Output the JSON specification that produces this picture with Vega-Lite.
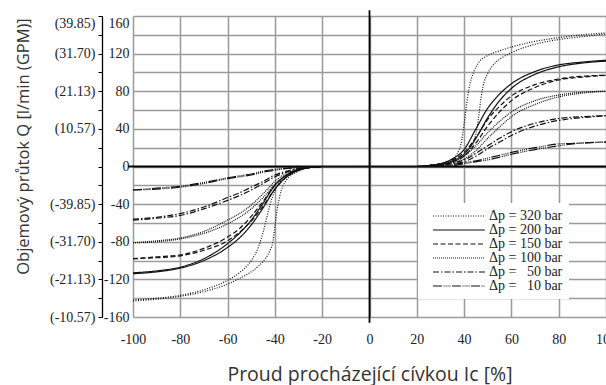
{
  "$schema": "https://vega.github.io/schema/vega-lite/v6.json",
  "width": 473,
  "height": 301,
  "autosize": {"type": "none"},
  "padding": {"left": 133, "top": 16, "right": 0, "bottom": 68},
  "background": "white",
  "config": {"view": {"stroke": null}, "font": "Liberation Sans Narrow"},
  "datasets": {
    "zero": [{"y": 0}],
    "curves": [
      {"p":320,"b":"a","x":-100,"y":-143},{"p":320,"b":"a","x":-90,"y":-141},{"p":320,"b":"a","x":-80,"y":-138},{"p":320,"b":"a","x":-70,"y":-133},{"p":320,"b":"a","x":-60,"y":-125},{"p":320,"b":"a","x":-55,"y":-119},{"p":320,"b":"a","x":-50,"y":-112},{"p":320,"b":"a","x":-47,"y":-106},{"p":320,"b":"a","x":-45,"y":-101},{"p":320,"b":"a","x":-43,"y":-94},{"p":320,"b":"a","x":-42,"y":-89},{"p":320,"b":"a","x":-41,"y":-82},{"p":320,"b":"a","x":-40,"y":-64},{"p":320,"b":"a","x":-39,"y":-45},{"p":320,"b":"a","x":-38,"y":-32},{"p":320,"b":"a","x":-35,"y":-14},{"p":320,"b":"a","x":-30,"y":-5},{"p":320,"b":"a","x":-25,"y":-1},{"p":320,"b":"a","x":-20,"y":0},
      {"p":320,"b":"a","x":20,"y":0},{"p":320,"b":"a","x":25,"y":1},{"p":320,"b":"a","x":30,"y":3},{"p":320,"b":"a","x":35,"y":8},{"p":320,"b":"a","x":37,"y":13},{"p":320,"b":"a","x":39,"y":28},{"p":320,"b":"a","x":40,"y":45},{"p":320,"b":"a","x":41,"y":65},{"p":320,"b":"a","x":42,"y":82},{"p":320,"b":"a","x":44,"y":100},{"p":320,"b":"a","x":46,"y":110},{"p":320,"b":"a","x":50,"y":118},{"p":320,"b":"a","x":55,"y":123},{"p":320,"b":"a","x":60,"y":127},{"p":320,"b":"a","x":70,"y":133},{"p":320,"b":"a","x":80,"y":137},{"p":320,"b":"a","x":90,"y":140},{"p":320,"b":"a","x":100,"y":142},
      {"p":320,"b":"b","x":-100,"y":-142},{"p":320,"b":"b","x":-90,"y":-140},{"p":320,"b":"b","x":-80,"y":-137},{"p":320,"b":"b","x":-70,"y":-131},{"p":320,"b":"b","x":-60,"y":-121},{"p":320,"b":"b","x":-55,"y":-113},{"p":320,"b":"b","x":-50,"y":-100},{"p":320,"b":"b","x":-47,"y":-86},{"p":320,"b":"b","x":-45,"y":-70},{"p":320,"b":"b","x":-43,"y":-50},{"p":320,"b":"b","x":-42,"y":-40},{"p":320,"b":"b","x":-40,"y":-26},{"p":320,"b":"b","x":-35,"y":-10},{"p":320,"b":"b","x":-30,"y":-4},{"p":320,"b":"b","x":-25,"y":-1},{"p":320,"b":"b","x":-20,"y":0},
      {"p":320,"b":"b","x":20,"y":0},{"p":320,"b":"b","x":25,"y":1},{"p":320,"b":"b","x":30,"y":2},{"p":320,"b":"b","x":35,"y":5},{"p":320,"b":"b","x":40,"y":11},{"p":320,"b":"b","x":43,"y":20},{"p":320,"b":"b","x":45,"y":35},{"p":320,"b":"b","x":46,"y":50},{"p":320,"b":"b","x":47,"y":70},{"p":320,"b":"b","x":48,"y":85},{"p":320,"b":"b","x":50,"y":99},{"p":320,"b":"b","x":52,"y":107},{"p":320,"b":"b","x":55,"y":114},{"p":320,"b":"b","x":60,"y":121},{"p":320,"b":"b","x":70,"y":130},{"p":320,"b":"b","x":80,"y":135},{"p":320,"b":"b","x":90,"y":138},{"p":320,"b":"b","x":100,"y":141},
      {"p":200,"b":"a","x":-100,"y":-114},{"p":200,"b":"a","x":-90,"y":-112},{"p":200,"b":"a","x":-80,"y":-108},{"p":200,"b":"a","x":-70,"y":-100},{"p":200,"b":"a","x":-60,"y":-86},{"p":200,"b":"a","x":-55,"y":-76},{"p":200,"b":"a","x":-50,"y":-62},{"p":200,"b":"a","x":-45,"y":-44},{"p":200,"b":"a","x":-40,"y":-24},{"p":200,"b":"a","x":-35,"y":-11},{"p":200,"b":"a","x":-30,"y":-4},{"p":200,"b":"a","x":-25,"y":-1},{"p":200,"b":"a","x":-20,"y":0},
      {"p":200,"b":"a","x":20,"y":0},{"p":200,"b":"a","x":25,"y":1},{"p":200,"b":"a","x":30,"y":3},{"p":200,"b":"a","x":35,"y":8},{"p":200,"b":"a","x":40,"y":18},{"p":200,"b":"a","x":45,"y":40},{"p":200,"b":"a","x":50,"y":62},{"p":200,"b":"a","x":55,"y":77},{"p":200,"b":"a","x":60,"y":88},{"p":200,"b":"a","x":70,"y":101},{"p":200,"b":"a","x":80,"y":108},{"p":200,"b":"a","x":90,"y":111},{"p":200,"b":"a","x":100,"y":113},
      {"p":200,"b":"b","x":-100,"y":-113},{"p":200,"b":"b","x":-90,"y":-111},{"p":200,"b":"b","x":-80,"y":-107},{"p":200,"b":"b","x":-70,"y":-98},{"p":200,"b":"b","x":-60,"y":-82},{"p":200,"b":"b","x":-55,"y":-71},{"p":200,"b":"b","x":-50,"y":-57},{"p":200,"b":"b","x":-45,"y":-39},{"p":200,"b":"b","x":-40,"y":-20},{"p":200,"b":"b","x":-35,"y":-9},{"p":200,"b":"b","x":-30,"y":-3},{"p":200,"b":"b","x":-25,"y":-1},{"p":200,"b":"b","x":-20,"y":0},
      {"p":200,"b":"b","x":20,"y":0},{"p":200,"b":"b","x":25,"y":1},{"p":200,"b":"b","x":30,"y":2},{"p":200,"b":"b","x":35,"y":6},{"p":200,"b":"b","x":40,"y":13},{"p":200,"b":"b","x":45,"y":30},{"p":200,"b":"b","x":50,"y":52},{"p":200,"b":"b","x":55,"y":70},{"p":200,"b":"b","x":60,"y":83},{"p":200,"b":"b","x":70,"y":98},{"p":200,"b":"b","x":80,"y":106},{"p":200,"b":"b","x":90,"y":110},{"p":200,"b":"b","x":100,"y":112},
      {"p":150,"b":"a","x":-100,"y":-98},{"p":150,"b":"a","x":-90,"y":-97},{"p":150,"b":"a","x":-80,"y":-95},{"p":150,"b":"a","x":-70,"y":-89},{"p":150,"b":"a","x":-60,"y":-79},{"p":150,"b":"a","x":-55,"y":-70},{"p":150,"b":"a","x":-50,"y":-58},{"p":150,"b":"a","x":-45,"y":-42},{"p":150,"b":"a","x":-40,"y":-24},{"p":150,"b":"a","x":-35,"y":-11},{"p":150,"b":"a","x":-30,"y":-4},{"p":150,"b":"a","x":-25,"y":-1},{"p":150,"b":"a","x":-20,"y":0},
      {"p":150,"b":"a","x":20,"y":0},{"p":150,"b":"a","x":25,"y":1},{"p":150,"b":"a","x":30,"y":3},{"p":150,"b":"a","x":35,"y":7},{"p":150,"b":"a","x":40,"y":15},{"p":150,"b":"a","x":45,"y":31},{"p":150,"b":"a","x":50,"y":50},{"p":150,"b":"a","x":55,"y":64},{"p":150,"b":"a","x":60,"y":75},{"p":150,"b":"a","x":70,"y":87},{"p":150,"b":"a","x":80,"y":93},{"p":150,"b":"a","x":90,"y":96},{"p":150,"b":"a","x":100,"y":97},
      {"p":150,"b":"b","x":-100,"y":-98},{"p":150,"b":"b","x":-90,"y":-96},{"p":150,"b":"b","x":-80,"y":-94},{"p":150,"b":"b","x":-70,"y":-87},{"p":150,"b":"b","x":-60,"y":-75},{"p":150,"b":"b","x":-55,"y":-66},{"p":150,"b":"b","x":-50,"y":-53},{"p":150,"b":"b","x":-45,"y":-37},{"p":150,"b":"b","x":-40,"y":-20},{"p":150,"b":"b","x":-35,"y":-9},{"p":150,"b":"b","x":-30,"y":-3},{"p":150,"b":"b","x":-25,"y":-1},{"p":150,"b":"b","x":-20,"y":0},
      {"p":150,"b":"b","x":20,"y":0},{"p":150,"b":"b","x":25,"y":1},{"p":150,"b":"b","x":30,"y":2},{"p":150,"b":"b","x":35,"y":5},{"p":150,"b":"b","x":40,"y":11},{"p":150,"b":"b","x":45,"y":25},{"p":150,"b":"b","x":50,"y":43},{"p":150,"b":"b","x":55,"y":58},{"p":150,"b":"b","x":60,"y":70},{"p":150,"b":"b","x":70,"y":84},{"p":150,"b":"b","x":80,"y":92},{"p":150,"b":"b","x":90,"y":95},{"p":150,"b":"b","x":100,"y":97},
      {"p":100,"b":"a","x":-100,"y":-81},{"p":100,"b":"a","x":-90,"y":-80},{"p":100,"b":"a","x":-80,"y":-77},{"p":100,"b":"a","x":-70,"y":-71},{"p":100,"b":"a","x":-60,"y":-61},{"p":100,"b":"a","x":-55,"y":-54},{"p":100,"b":"a","x":-50,"y":-45},{"p":100,"b":"a","x":-45,"y":-33},{"p":100,"b":"a","x":-40,"y":-19},{"p":100,"b":"a","x":-35,"y":-9},{"p":100,"b":"a","x":-30,"y":-3},{"p":100,"b":"a","x":-25,"y":-1},{"p":100,"b":"a","x":-20,"y":0},
      {"p":100,"b":"a","x":20,"y":0},{"p":100,"b":"a","x":25,"y":1},{"p":100,"b":"a","x":30,"y":2},{"p":100,"b":"a","x":35,"y":5},{"p":100,"b":"a","x":40,"y":11},{"p":100,"b":"a","x":45,"y":22},{"p":100,"b":"a","x":50,"y":36},{"p":100,"b":"a","x":55,"y":48},{"p":100,"b":"a","x":60,"y":58},{"p":100,"b":"a","x":70,"y":70},{"p":100,"b":"a","x":80,"y":76},{"p":100,"b":"a","x":90,"y":79},{"p":100,"b":"a","x":100,"y":80},
      {"p":100,"b":"b","x":-100,"y":-81},{"p":100,"b":"b","x":-90,"y":-79},{"p":100,"b":"b","x":-80,"y":-76},{"p":100,"b":"b","x":-70,"y":-69},{"p":100,"b":"b","x":-60,"y":-57},{"p":100,"b":"b","x":-55,"y":-50},{"p":100,"b":"b","x":-50,"y":-41},{"p":100,"b":"b","x":-45,"y":-29},{"p":100,"b":"b","x":-40,"y":-16},{"p":100,"b":"b","x":-35,"y":-7},{"p":100,"b":"b","x":-30,"y":-3},{"p":100,"b":"b","x":-25,"y":-1},{"p":100,"b":"b","x":-20,"y":0},
      {"p":100,"b":"b","x":20,"y":0},{"p":100,"b":"b","x":25,"y":0},{"p":100,"b":"b","x":30,"y":2},{"p":100,"b":"b","x":35,"y":4},{"p":100,"b":"b","x":40,"y":8},{"p":100,"b":"b","x":45,"y":17},{"p":100,"b":"b","x":50,"y":30},{"p":100,"b":"b","x":55,"y":42},{"p":100,"b":"b","x":60,"y":53},{"p":100,"b":"b","x":70,"y":66},{"p":100,"b":"b","x":80,"y":74},{"p":100,"b":"b","x":90,"y":78},{"p":100,"b":"b","x":100,"y":80},
      {"p":50,"b":"a","x":-100,"y":-57},{"p":50,"b":"a","x":-90,"y":-55},{"p":50,"b":"a","x":-80,"y":-52},{"p":50,"b":"a","x":-70,"y":-45},{"p":50,"b":"a","x":-60,"y":-36},{"p":50,"b":"a","x":-55,"y":-31},{"p":50,"b":"a","x":-50,"y":-25},{"p":50,"b":"a","x":-45,"y":-18},{"p":50,"b":"a","x":-40,"y":-11},{"p":50,"b":"a","x":-35,"y":-6},{"p":50,"b":"a","x":-30,"y":-2},{"p":50,"b":"a","x":-25,"y":-1},{"p":50,"b":"a","x":-20,"y":0},
      {"p":50,"b":"a","x":20,"y":0},{"p":50,"b":"a","x":25,"y":1},{"p":50,"b":"a","x":30,"y":2},{"p":50,"b":"a","x":35,"y":4},{"p":50,"b":"a","x":40,"y":7},{"p":50,"b":"a","x":45,"y":14},{"p":50,"b":"a","x":50,"y":22},{"p":50,"b":"a","x":55,"y":30},{"p":50,"b":"a","x":60,"y":37},{"p":50,"b":"a","x":70,"y":46},{"p":50,"b":"a","x":80,"y":51},{"p":50,"b":"a","x":90,"y":53},{"p":50,"b":"a","x":100,"y":54},
      {"p":50,"b":"b","x":-100,"y":-56},{"p":50,"b":"b","x":-90,"y":-54},{"p":50,"b":"b","x":-80,"y":-50},{"p":50,"b":"b","x":-70,"y":-43},{"p":50,"b":"b","x":-60,"y":-33},{"p":50,"b":"b","x":-55,"y":-28},{"p":50,"b":"b","x":-50,"y":-22},{"p":50,"b":"b","x":-45,"y":-16},{"p":50,"b":"b","x":-40,"y":-9},{"p":50,"b":"b","x":-35,"y":-5},{"p":50,"b":"b","x":-30,"y":-2},{"p":50,"b":"b","x":-25,"y":-1},{"p":50,"b":"b","x":-20,"y":0},
      {"p":50,"b":"b","x":20,"y":0},{"p":50,"b":"b","x":25,"y":0},{"p":50,"b":"b","x":30,"y":1},{"p":50,"b":"b","x":35,"y":3},{"p":50,"b":"b","x":40,"y":5},{"p":50,"b":"b","x":45,"y":11},{"p":50,"b":"b","x":50,"y":19},{"p":50,"b":"b","x":55,"y":26},{"p":50,"b":"b","x":60,"y":33},{"p":50,"b":"b","x":70,"y":43},{"p":50,"b":"b","x":80,"y":49},{"p":50,"b":"b","x":90,"y":52},{"p":50,"b":"b","x":100,"y":54},
      {"p":10,"b":"a","x":-100,"y":-25},{"p":10,"b":"a","x":-90,"y":-24},{"p":10,"b":"a","x":-80,"y":-22},{"p":10,"b":"a","x":-70,"y":-18},{"p":10,"b":"a","x":-60,"y":-13},{"p":10,"b":"a","x":-55,"y":-11},{"p":10,"b":"a","x":-50,"y":-9},{"p":10,"b":"a","x":-45,"y":-6},{"p":10,"b":"a","x":-40,"y":-4},{"p":10,"b":"a","x":-35,"y":-2},{"p":10,"b":"a","x":-30,"y":-1},{"p":10,"b":"a","x":-25,"y":0},{"p":10,"b":"a","x":-20,"y":0},
      {"p":10,"b":"a","x":20,"y":0},{"p":10,"b":"a","x":25,"y":0},{"p":10,"b":"a","x":30,"y":1},{"p":10,"b":"a","x":35,"y":2},{"p":10,"b":"a","x":40,"y":4},{"p":10,"b":"a","x":45,"y":6},{"p":10,"b":"a","x":50,"y":9},{"p":10,"b":"a","x":55,"y":12},{"p":10,"b":"a","x":60,"y":15},{"p":10,"b":"a","x":70,"y":20},{"p":10,"b":"a","x":80,"y":24},{"p":10,"b":"a","x":90,"y":25},{"p":10,"b":"a","x":100,"y":26},
      {"p":10,"b":"b","x":-100,"y":-25},{"p":10,"b":"b","x":-90,"y":-23},{"p":10,"b":"b","x":-80,"y":-21},{"p":10,"b":"b","x":-70,"y":-17},{"p":10,"b":"b","x":-60,"y":-12},{"p":10,"b":"b","x":-55,"y":-10},{"p":10,"b":"b","x":-50,"y":-8},{"p":10,"b":"b","x":-45,"y":-5},{"p":10,"b":"b","x":-40,"y":-3},{"p":10,"b":"b","x":-35,"y":-2},{"p":10,"b":"b","x":-30,"y":-1},{"p":10,"b":"b","x":-25,"y":0},{"p":10,"b":"b","x":-20,"y":0},
      {"p":10,"b":"b","x":20,"y":0},{"p":10,"b":"b","x":25,"y":0},{"p":10,"b":"b","x":30,"y":1},{"p":10,"b":"b","x":35,"y":1},{"p":10,"b":"b","x":40,"y":3},{"p":10,"b":"b","x":45,"y":5},{"p":10,"b":"b","x":50,"y":7},{"p":10,"b":"b","x":55,"y":10},{"p":10,"b":"b","x":60,"y":13},{"p":10,"b":"b","x":70,"y":18},{"p":10,"b":"b","x":80,"y":22},{"p":10,"b":"b","x":90,"y":25},{"p":10,"b":"b","x":100,"y":26}
    ]
  },
  "layer": [
    {
      "data": {"name": "zero"},
      "mark": {"type": "rule", "color": "#000", "strokeWidth": 1.8},
      "encoding": {
        "x": {"datum": -102, "type": "quantitative"},
        "x2": {"datum": 100},
        "y": {
          "field": "y", "type": "quantitative",
          "scale": {"domain": [-160, 160], "nice": false, "zero": false},
          "axis": {
            "orient": "left", "offset": 31,
            "values": [-160,-140,-120,-100,-80,-60,-40,-20,0,20,40,60,80,100,120,140,160],
            "grid": false, "domain": true, "domainColor": "#000", "domainWidth": 1.3,
            "ticks": true, "tickColor": "#000", "tickSize": 4, "tickWidth": 1,
            "labelPadding": 3, "labelFont": "Liberation Sans Narrow", "labelFontSize": 14, "labelColor": "#222",
            "labelOverlap": false, "labelFlush": false, "labelBound": false,
            "labelBaseline": {"condition": {"test": "datum.value == 160", "value": "top"}, "value": "middle"},
            "labelExpr": "datum.value == 160 ? '(39.85)' : datum.value == 120 ? '(31.70)' : datum.value == 80 ? '(21.13)' : datum.value == 40 ? '(10.57)' : datum.value == -40 ? '(-39.85)' : datum.value == -80 ? '(-31.70)' : datum.value == -120 ? '(-21.13)' : datum.value == -160 ? '(-10.57)' : ''",
            "title": null
          }
        }
      }
    },
    {
      "data": {"name": "zero"},
      "mark": {"type": "rule", "color": "#000", "strokeWidth": 1.8},
      "encoding": {
        "x": {"datum": 0, "type": "quantitative"},
        "y": {"datum": 166, "type": "quantitative", "axis": null},
        "y2": {"datum": -166}
      }
    },
    {
      "data": {"name": "curves"},
      "mark": {"type": "line", "interpolate": "monotone", "strokeWidth": 1.2, "color": "#111"},
      "encoding": {
        "x": {
          "field": "x", "type": "quantitative",
          "scale": {"domain": [-100, 100], "nice": false, "zero": false},
          "axis": {
            "values": [-100,-80,-60,-40,-20,0,20,40,60,80,100],
            "grid": true, "gridColor": "#9a9a9a", "gridWidth": 1.5,
            "domain": false, "ticks": false, "labelPadding": 15,
            "labelFont": "Liberation Sans Narrow", "labelFontSize": 14, "labelColor": "#222",
            "labelFlush": false, "labelOverlap": false, "labelBound": false,
            "labelExpr": "'' + datum.value",
            "title": "Proud procházející cívkou Ic [%]",
            "titleFont": "Open Sans", "titleFontSize": 19.5, "titleFontWeight": "normal", "titleColor": "#333",
            "titleY": 63, "titleBaseline": "alphabetic"
          }
        },
        "y": {
          "field": "y", "type": "quantitative",
          "scale": {"domain": [-160, 160], "nice": false, "zero": false},
          "axis": {
            "orient": "left",
            "values": [-160,-140,-120,-100,-80,-60,-40,-20,0,20,40,60,80,100,120,140,160],
            "grid": true, "gridColor": "#9a9a9a", "gridWidth": 1.5,
            "domain": false, "ticks": false, "labelPadding": 4,
            "labelFont": "Liberation Sans Narrow", "labelFontSize": 14, "labelColor": "#222",
            "labelOverlap": false, "labelFlush": false, "labelBound": false,
            "labelBaseline": {"condition": {"test": "datum.value == 160", "value": "top"}, "value": "middle"},
            "labelExpr": "datum.value % 40 == 0 ? '' + datum.value : ''",
            "title": "Objemový průtok Q [l/min (GPM)]",
            "titleFont": "Open Sans", "titleFontSize": 16.5, "titleFontWeight": "normal", "titleColor": "#333",
            "titleX": -110, "titleY": 130, "titleAngle": -90, "titleAlign": "center", "titleBaseline": "middle"
          }
        },
        "strokeDash": {
          "field": "p", "type": "nominal",
          "scale": {
            "domain": [320, 200, 150, 100, 50, 10],
            "range": [[1, 1.5], [1, 0], [5, 2.5], [1, 1], [6, 2, 1.5, 2], [9, 1.5, 1, 1, 1, 1, 1, 1, 1, 1.5]]
          },
          "legend": {
            "orient": "none", "legendX": 285, "legendY": 187,
            "title": null, "fillColor": "white", "padding": 6,
            "symbolType": "M-5,0H5", "symbolSize": 108, "symbolStrokeWidth": 1.2, "symbolStrokeColor": "#111",
            "symbolOffset": 28, "labelOffset": 23,
            "labelFont": "Liberation Sans Narrow", "labelFontSize": 14, "labelColor": "#222",
            "rowPadding": -2.2,
            "labelExpr": "'Δp = ' + (datum.value < 100 ? '\u00a0\u00a0' : '') + datum.value + ' bar'"
          }
        },
        "detail": {"field": "b", "type": "nominal"}
      }
    }
  ],
  "resolve": {"axis": {"y": "independent"}}
}
